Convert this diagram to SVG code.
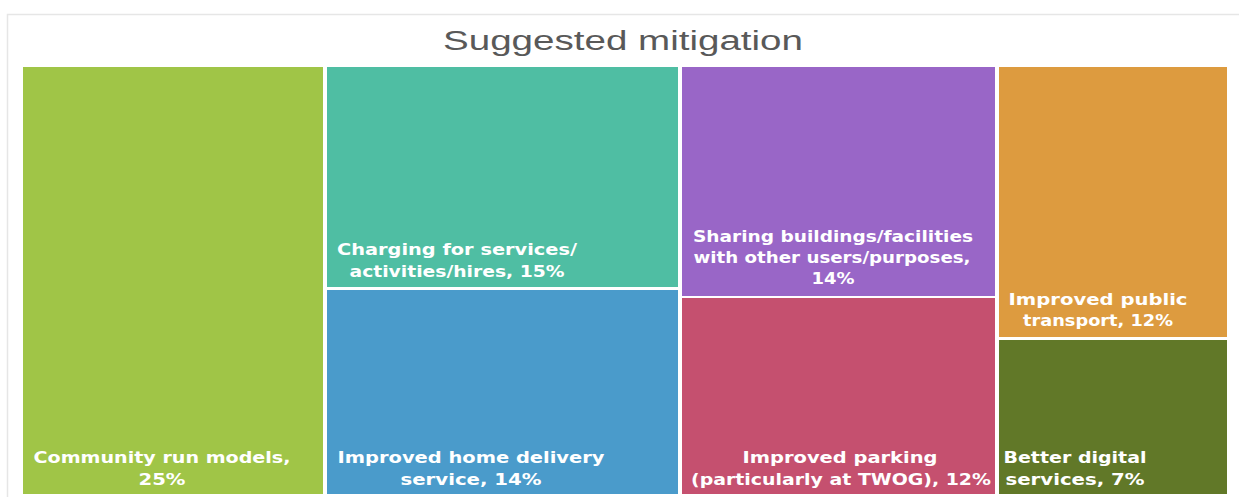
<svg xmlns="http://www.w3.org/2000/svg" width="1239" height="497" viewBox="0 0 1239 497">
<style>
.tile{stroke:none}
.lbl{font-family:"DejaVu Sans","Liberation Sans",sans-serif;font-weight:bold;font-size:15.5px;fill:#ffffff;text-anchor:middle}
.title{font-family:"Liberation Sans","DejaVu Sans",sans-serif;font-size:27px;fill:#595959;text-anchor:middle}
</style>
<rect x="0" y="0" width="1239" height="497" fill="#ffffff"/>
<rect x="7.5" y="14.5" width="1245" height="495" fill="#ffffff" stroke="#e6e6e6" stroke-width="1.5"/>
<text class="title" x="623" y="50" textLength="360" lengthAdjust="spacingAndGlyphs">Suggested mitigation</text>
<g id="connectors"></g>
<g id="community">
<rect class="tile" x="23" y="67" width="300" height="427" fill="#a0c547"/>
<text class="lbl" x="162" y="463" textLength="257" lengthAdjust="spacingAndGlyphs">Community run models,</text>
<text class="lbl" x="162" y="485" textLength="47" lengthAdjust="spacingAndGlyphs">25%</text>
</g>
<g id="charging">
<rect class="tile" x="327" y="67" width="351" height="220" fill="#4fbea3"/>
<text class="lbl" x="457" y="255" textLength="240" lengthAdjust="spacingAndGlyphs">Charging for services/</text>
<text class="lbl" x="457" y="277" textLength="215" lengthAdjust="spacingAndGlyphs">activities/hires, 15%</text>
</g>
<g id="delivery">
<rect class="tile" x="327" y="290" width="351" height="204" fill="#4a9bcb"/>
<text class="lbl" x="471" y="463" textLength="267" lengthAdjust="spacingAndGlyphs">Improved home delivery</text>
<text class="lbl" x="471" y="485" textLength="141" lengthAdjust="spacingAndGlyphs">service, 14%</text>
</g>
<g id="sharing">
<rect class="tile" x="682" y="67" width="313" height="229" fill="#9966c7"/>
<text class="lbl" x="833" y="242" textLength="280" lengthAdjust="spacingAndGlyphs">Sharing buildings/facilities</text>
<text class="lbl" x="832" y="263" textLength="277" lengthAdjust="spacingAndGlyphs">with other users/purposes,</text>
<text class="lbl" x="833" y="284" textLength="43" lengthAdjust="spacingAndGlyphs">14%</text>
</g>
<g id="parking">
<rect class="tile" x="682" y="298" width="313" height="196" fill="#c5506f"/>
<text class="lbl" x="840" y="463" textLength="195" lengthAdjust="spacingAndGlyphs">Improved parking</text>
<text class="lbl" x="841" y="485" textLength="300" lengthAdjust="spacingAndGlyphs">(particularly at TWOG), 12%</text>
</g>
<g id="transport">
<rect class="tile" x="999" y="67" width="228" height="270" fill="#dd9b3f"/>
<text class="lbl" x="1098" y="305" textLength="179" lengthAdjust="spacingAndGlyphs">Improved public</text>
<text class="lbl" x="1098" y="326" textLength="150" lengthAdjust="spacingAndGlyphs">transport, 12%</text>
</g>
<g id="digital">
<rect class="tile" x="999" y="340" width="228" height="154" fill="#617828"/>
<text class="lbl" x="1075" y="463" textLength="143" lengthAdjust="spacingAndGlyphs">Better digital</text>
<text class="lbl" x="1075" y="485" textLength="139" lengthAdjust="spacingAndGlyphs">services, 7%</text>
</g>
</svg>
